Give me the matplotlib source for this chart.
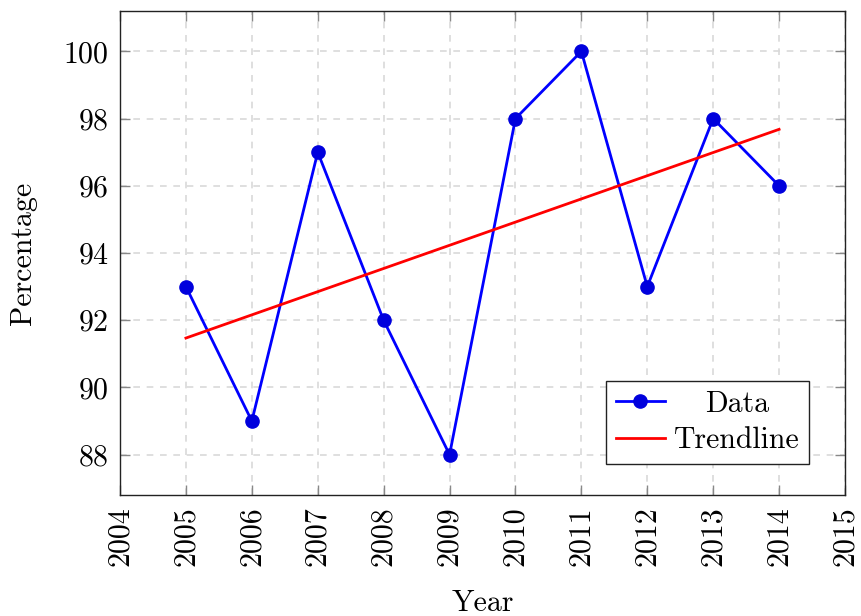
import matplotlib
matplotlib.use('Agg')
import matplotlib.pyplot as plt

years = [2005, 2006, 2007, 2008, 2009, 2010, 2011, 2012, 2013, 2014]
percentage = [93, 89, 97, 92, 88, 98, 100, 93, 98, 96]
trend_years = [2005, 2014]
trend_values = [91.47, 97.68]
x_ticks = list(range(2004, 2016))
y_ticks = [88, 90, 92, 94, 96, 98, 100]

plt.rcParams['font.family'] = 'cmr10'
plt.rcParams['mathtext.fontset'] = 'cm'
plt.rcParams['axes.formatter.use_mathtext'] = True

FS = 21.5

fig = plt.figure(figsize=(8.61, 6.16), dpi=100)
ax = fig.add_axes([0.1394, 0.1964, 0.9814 - 0.1394, 0.9821 - 0.1964])

ax.plot(years, percentage, '-o', color='#0000ff', lw=2, ms=9.5,
        mfc='#0000dd', mec='#0000dd', label='Data', zorder=3)
ax.plot(trend_years, trend_values, '-', color='#ff0000', lw=2, label='Trendline', zorder=3)

ax.set_xlim(2004, 2015)
ax.set_ylim(86.8, 101.2)
ax.set_xticks(x_ticks)
ax.set_yticks(y_ticks)
ax.set_xticklabels([str(t) for t in x_ticks], rotation=90)
ax.tick_params(direction='in', length=7, width=1, color='#888888',
               top=True, right=True, labelsize=FS, pad=8)
ax.grid(True, color='#d9d9d9', ls=(0, (4, 4)), lw=1.2)
ax.set_axisbelow(True)
for s in ax.spines.values():
    s.set_linewidth(1)
    s.set_color('#222222')

ax.set_xlabel('Year', fontsize=FS, labelpad=17)
ax.set_ylabel('Percentage', fontsize=FS, labelpad=19)

leg = ax.legend(loc='lower right', bbox_to_anchor=(0.951, 0.064), fontsize=FS,
                fancybox=False, framealpha=1, edgecolor='#222222',
                borderpad=0.33, handlelength=1.65, labelspacing=0.3, handletextpad=0.3,
                borderaxespad=0)
leg.get_frame().set_linewidth(1)

# centre the legend entries like pgfplots does
fig.canvas.draw()
r = fig.canvas.get_renderer()
texts = leg.get_texts()
widths = [t.get_window_extent(r).width for t in texts]
wmax = max(widths)
for t, w in zip(texts, widths):
    t.set_x((wmax - w) / 2)

fig.savefig('out.png', dpi=100)
